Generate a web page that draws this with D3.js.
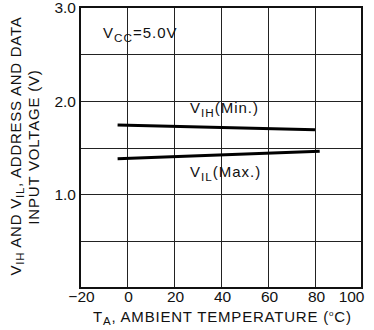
<!DOCTYPE html>
<html>
<head>
<meta charset="utf-8">
<script src="https://cdn.jsdelivr.net/npm/d3@7"></script>
<style>
  html, body { margin: 0; padding: 0; background: #fff; }
  svg { display: block; }
  text { font-family: "Liberation Sans", Arial, Helvetica, sans-serif; fill: #111; }
</style>
</head>
<body>
<svg id="chart" width="374" height="330"></svg>
<script>
// Temperature axis (°C) and voltage axis (V)
const tempTicks = [-20, 0, 20, 40, 60, 80, 100];
const voltGrid = [0.5, 1.0, 1.5, 2.0, 2.5];
const voltLabels = [1.0, 2.0, 3.0];

// Input threshold curves versus ambient temperature
const vihTemp = [-4, 80];
const vihVolt = [1.74, 1.69];
const vilTemp = [-4, 82];
const vilVolt = [1.38, 1.46];

const svg = d3.select("#chart");
const plot = { left: 80, right: 362, top: 7, bottom: 288 };

const x = d3.scaleLinear().domain([-20, 100]).range([plot.left, plot.right]);
const y = d3.scaleLinear().domain([0, 3]).range([plot.bottom, plot.top]);

// grid
const grid = svg.append("g").attr("stroke", "#222").attr("stroke-width", 1).attr("fill", "none");
grid.selectAll("line.v").data(tempTicks.slice(1, -1)).enter().append("line")
  .attr("x1", d => Math.round(x(d)) + 0.5).attr("x2", d => Math.round(x(d)) + 0.5)
  .attr("y1", plot.top).attr("y2", plot.bottom);
grid.selectAll("line.h").data(voltGrid).enter().append("line")
  .attr("y1", d => Math.round(y(d)) + 0.5).attr("y2", d => Math.round(y(d)) + 0.5)
  .attr("x1", plot.left).attr("x2", plot.right);

// frame
svg.append("rect")
  .attr("x", plot.left).attr("y", plot.top)
  .attr("width", plot.right - plot.left).attr("height", plot.bottom - plot.top)
  .attr("fill", "none").attr("stroke", "#111").attr("stroke-width", 2);

// tick labels via d3 axes (domain and tick marks hidden)
const xAxis = d3.axisBottom(x).tickValues(tempTicks).tickSize(0).tickPadding(0)
  .tickFormat(d => d < 0 ? "\u2212" + Math.abs(d) : d);
const gx = svg.append("g").attr("transform", `translate(0,${plot.bottom})`).call(xAxis);
gx.select(".domain").remove();
gx.selectAll("text").attr("dy", null).attr("y", 14).attr("x", 1).style("font-size", "15.5px")
  .style("font-family", "'Liberation Sans', Arial, sans-serif").attr("fill", "#111");
// last label sits flush against the right edge
gx.selectAll(".tick").filter(d => d === 100).select("text")
  .attr("text-anchor", "end").attr("x", 2);

const yAxis = d3.axisLeft(y).tickValues(voltLabels).tickSize(0).tickPadding(4)
  .tickFormat(d3.format(".1f"));
const gy = svg.append("g").attr("transform", `translate(${plot.left},0)`).call(yAxis);
gy.select(".domain").remove();
gy.selectAll("text").attr("dy", "0.36em").style("font-size", "15.5px")
  .style("font-family", "'Liberation Sans', Arial, sans-serif").attr("fill", "#111");

// curves
const line = d3.line().x(d => x(d[0])).y(d => y(d[1]));
const curves = [
  d3.zip(vihTemp, vihVolt),
  d3.zip(vilTemp, vilVolt)
];
svg.selectAll("path.curve").data(curves).enter().append("path")
  .attr("class", "curve")
  .attr("d", line)
  .attr("fill", "none").attr("stroke", "#000").attr("stroke-width", 3);

// label helper: main text with subscript
function subLabel(parent, px, py, parts, size) {
  const t = parent.append("text").attr("x", px).attr("y", py)
    .style("font-size", size + "px").style("letter-spacing", "1px");
  parts.forEach(p => {
    const s = t.append("tspan").text(p.t);
    if (p.sub) s.style("font-size", (size * 0.78) + "px").attr("dy", 4);
    else if (p.up) s.attr("dy", -4);
  });
  return t;
}

subLabel(svg, 103, 38, [{t: "V"}, {t: "CC", sub: true}, {t: "=5.0V", up: true}], 15);
subLabel(svg, 190, 113, [{t: "V"}, {t: "IH", sub: true}, {t: "(Min.)", up: true}], 15);
subLabel(svg, 190, 177, [{t: "V"}, {t: "IL", sub: true}, {t: "(Max.)", up: true}], 15);

// x axis title
const xt = svg.append("text").attr("x", 93).attr("y", 322)
  .style("font-size", "15px").style("letter-spacing", "0.8px");
xt.append("tspan").text("T");
xt.append("tspan").text("A").style("font-size", "11.5px").attr("dy", 3);
xt.append("tspan").text(", AMBIENT TEMPERATURE (").attr("dy", -3);
xt.append("tspan").text("o").style("font-size", "8px").attr("dy", -6);
xt.append("tspan").text("C)").attr("dy", 6);

// y axis title, two rotated lines
const yt = svg.append("g").attr("transform", "translate(21,146) rotate(-90)");
const y1 = yt.append("text").attr("text-anchor", "middle")
  .style("font-size", "15px").style("letter-spacing", "0.75px");
y1.append("tspan").text("V");
y1.append("tspan").text("IH").style("font-size", "11.5px").attr("dy", 3);
y1.append("tspan").text(" AND V").attr("dy", -3);
y1.append("tspan").text("IL").style("font-size", "11.5px").attr("dy", 3);
y1.append("tspan").text(", ADDRESS AND DATA").attr("dy", -3);

svg.append("text").attr("transform", "translate(39,147) rotate(-90)")
  .attr("text-anchor", "middle").style("font-size", "15px").style("letter-spacing", "0.8px")
  .text("INPUT VOLTAGE (V)");
</script>
</body>
</html>
